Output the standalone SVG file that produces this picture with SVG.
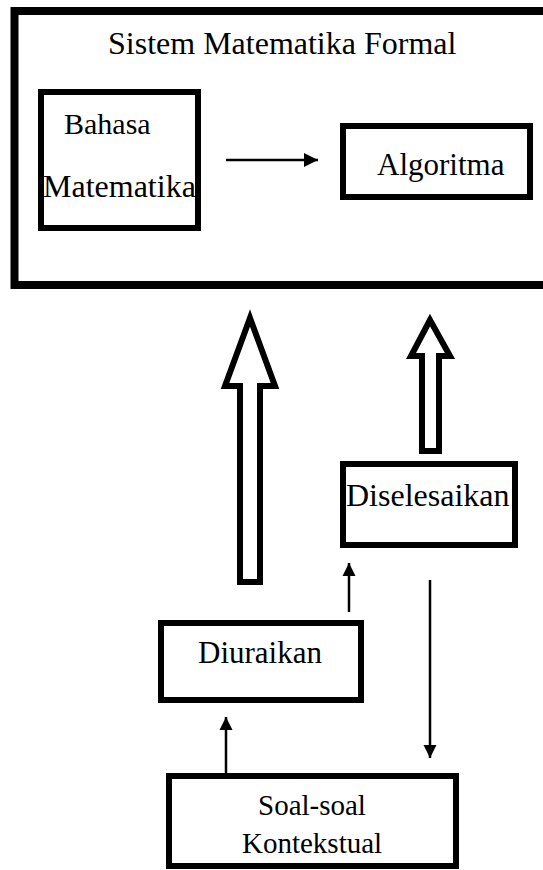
<svg xmlns="http://www.w3.org/2000/svg" width="543" height="870" viewBox="0 0 543 870">
<style>
.box{fill:#fff;stroke:#000;stroke-width:6}
.outer{fill:#fff;stroke:#000;stroke-width:8}
.hollow{fill:#fff;stroke:#000;stroke-width:6;stroke-linejoin:miter}
.line{stroke:#000;stroke-width:2.5;fill:none}
text{font-family:'Liberation Serif','Times New Roman',serif;fill:#000}
</style>
<defs>
<marker id="ah" markerUnits="userSpaceOnUse" markerWidth="16" markerHeight="16" refX="14" refY="8" orient="auto">
<path d="M0,1 L14,8 L0,15 Z" fill="#000"/>
</marker>
<marker id="ahs" markerUnits="userSpaceOnUse" markerWidth="14" markerHeight="14" refX="13" refY="7" orient="auto">
<path d="M0,0.5 L13,7 L0,13.5 Z" fill="#000"/>
</marker>
</defs>
<rect width="543" height="870" fill="#fff"/>
<g id="sistem">
<rect class="outer" x="14.5" y="11" width="540" height="274"/>
<text x="108" y="54" font-size="32">Sistem Matematika Formal</text>
</g>
<g id="bahasa">
<rect class="box" x="41" y="92" width="157" height="136"/>
<text x="64" y="134" font-size="30">Bahasa</text>
<text x="43" y="197" font-size="32">Matematika</text>
</g>
<g id="algoritma">
<rect class="box" x="343" y="126" width="187" height="71"/>
<text x="377" y="175" font-size="31">Algoritma</text>
</g>
<g id="diselesaikan">
<rect class="box" x="343" y="464" width="172" height="81"/>
<text x="346" y="506" font-size="32">Diselesaikan</text>
</g>
<g id="diuraikan">
<rect class="box" x="161" y="623" width="200" height="77"/>
<text x="198" y="663" font-size="31">Diuraikan</text>
</g>
<g id="soal">
<rect class="box" x="169" y="776" width="287" height="90"/>
<text x="258" y="815" font-size="29">Soal-soal</text>
<text x="242" y="853" font-size="29">Kontekstual</text>
</g>
<g id="connectors">
<line class="line" x1="226" y1="160" x2="318" y2="160" stroke-width="3" marker-end="url(#ah)"/>
<path class="hollow" d="M250,318 L225,386 L240,386 L240,582 L260,582 L260,386 L275,386 Z"/>
<path class="hollow" d="M430,320 L411,356 L422,356 L422,451 L439,451 L439,356 L450,356 Z"/>
<line class="line" x1="349" y1="612" x2="349" y2="563" marker-end="url(#ahs)"/>
<line class="line" x1="430" y1="580" x2="430" y2="758" marker-end="url(#ahs)"/>
<line class="line" x1="226" y1="773" x2="226" y2="717" marker-end="url(#ahs)"/>
</g>
</svg>
